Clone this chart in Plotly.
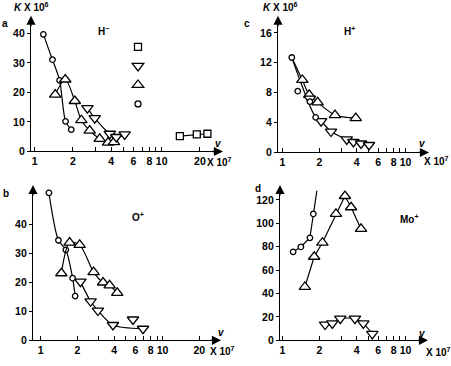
import plotly.graph_objects as go

W, H = 451, 366

# ---------------- data (x in units of 10^7, y = K x 10^6) ----------------
# Panel a : H-
a_circ_x = [1.17, 1.38, 1.57, 1.75, 1.94]
a_circ_y = [39.7, 31.1, 24.1, 10.2, 7.4]
a_up_x = [1.45, 1.74, 2.07, 2.33, 2.71, 3.25, 3.78, 4.21]
a_up_y = [19.3, 24.4, 17.1, 10.6, 7.1, 4.3, 3.0, 3.2]
a_dn_x = [2.60, 2.97, 3.90, 4.39, 5.11]
a_dn_y = [14.7, 11.3, 6.0, 4.9, 5.8]
a_sq_x = [13.9, 18.9, 22.9]
a_sq_y = [5.2, 5.8, 6.0]

# Panel b : O+
b_circ_x = [1.17, 1.40, 1.61, 1.83, 1.92]
b_circ_y = [51.0, 34.6, 31.3, 21.5, 15.3]
b_up_x = [1.48, 1.73, 2.09, 2.72, 3.25, 3.68, 4.25]
b_up_y = [23.2, 33.8, 33.0, 23.6, 20.0, 19.0, 16.4]
b_dn_x = [2.12, 2.57, 2.95, 3.92, 5.72, 6.91]
b_dn_y = [20.3, 13.5, 10.3, 5.3, 7.2, 4.0]

# Panel c : H+
c_circ_x = [1.19, 1.33, 1.67, 1.86]
c_circ_y = [12.7, 8.2, 6.8, 4.7]
c_up_x = [1.45, 1.65, 1.93, 2.67, 3.94]
c_up_y = [9.7, 7.7, 6.7, 5.0, 4.6]
c_dn_x = [1.67, 2.06, 2.48, 3.33, 3.77, 4.35, 5.05]
c_dn_y = [7.2, 4.2, 2.8, 1.75, 1.4, 1.2, 1.0]

# Panel d : Mo+
d_circ_x = [1.22, 1.41, 1.67, 1.78, 1.93]
d_circ_y = [75.6, 79.8, 87.6, 108.0, 132.0]
d_up_x = [1.52, 1.81, 2.11, 2.72, 3.22, 3.61, 4.35]
d_up_y = [45.6, 71.4, 83.4, 108.0, 123.3, 113.7, 95.2]
d_dn_x = [2.22, 2.54, 2.95, 3.88, 4.54, 5.37]
d_dn_y = [13.5, 14.5, 18.5, 18.5, 14.5, 5.5]

x_labels_ab = [1, 2, 4, 6, 8, 10, 20]
x_minor_ab = [3, 5, 7, 9]
x_labels_cd = [1, 2, 4, 6, 8, 10]
x_minor_cd = [3, 5, 7, 9]
y_ticks_a = [0, 10, 20, 30, 40]
y_ticks_b = [0, 10, 20, 30, 40]
y_ticks_c = [0, 4, 8, 12, 16]
y_ticks_d = [0, 20, 40, 60, 80, 100, 120]

# ---------------- styling helpers ----------------
FONT = "Liberation Sans"
def fx(px): return px / W
def fy(py): return 1 - py / H

SYM = {
    "circ": dict(symbol="circle", size=5.5),
    "up": dict(symbol="triangle-up", size=10),
    "dn": dict(symbol="triangle-down", size=10),
    "sq": dict(symbol="square", size=7),
}

fig = go.Figure()

def add(xs, ys, kind, ax, mode="lines+markers", shape="spline"):
    m = dict(color="white", line=dict(color="black", width=1.3), **SYM[kind])
    fig.add_trace(go.Scatter(
        x=xs, y=ys, mode=mode, marker=m,
        line=dict(color="black", width=1.2, shape=shape, smoothing=0.8),
        xaxis="x" + ax, yaxis="y" + ax, showlegend=False, cliponaxis=False))

def add_line(xs, ys, ax, shape="spline"):
    fig.add_trace(go.Scatter(
        x=xs, y=ys, mode="lines",
        line=dict(color="black", width=1.2, shape=shape, smoothing=0.8),
        xaxis="x" + ax, yaxis="y" + ax, showlegend=False, cliponaxis=False,
        hoverinfo="skip"))

def add_markers(xs, ys, kind, ax):
    add(xs, ys, kind, ax, mode="markers")

# panel a
add(a_circ_x, a_circ_y, "circ", "")
add(a_up_x, a_up_y, "up", "")
add(a_dn_x, a_dn_y, "dn", "")
add(a_sq_x, a_sq_y, "sq", "", shape="linear")

# panel b
add(b_circ_x, b_circ_y, "circ", "2")
add(b_up_x, b_up_y, "up", "2")
b_curve_x = [x for i, x in enumerate(b_dn_x) if i != 4]
b_curve_y = [y for i, y in enumerate(b_dn_y) if i != 4]
add_line(b_curve_x, b_curve_y, "2")
add_markers(b_dn_x, b_dn_y, "dn", "2")

# panel c
add_line([c_circ_x[0]] + c_up_x, [c_circ_y[0]] + c_up_y, "3")
add_line([c_circ_x[0]] + c_circ_x[3:] + c_dn_x[1:],
         [c_circ_y[0]] + c_circ_y[3:] + c_dn_y[1:], "3")
add_markers(c_up_x, c_up_y, "up", "3")
add_markers(c_dn_x, c_dn_y, "dn", "3")
add_markers(c_circ_x, c_circ_y, "circ", "3")

# panel d
add(d_circ_x, d_circ_y, "circ", "4", shape="linear")
add(d_up_x, d_up_y, "up", "4", shape="linear")
add(d_dn_x, d_dn_y, "dn", "4", shape="spline")

# legend keys (panel a)
for kind in ["sq", "dn", "up", "circ"]:
    m = dict(color="white", line=dict(color="black", width=1.3), **SYM[kind])
    if kind == "circ":
        m["size"] = 6
    fig.add_trace(go.Scatter(x=[None], y=[None], mode="markers", marker=m,
                             name="", showlegend=True))

tickfont = dict(family=FONT, size=10.5, color="black", weight="bold")

def xaxis(dom, rng, vals, minor):
    return dict(type="log", domain=dom, range=rng, tickvals=vals,
                ticktext=[str(v) for v in vals],
                minor=dict(tickvals=minor, ticks="inside", ticklen=4,
                           tickwidth=1.1, tickcolor="black", showgrid=False),
                showline=True, linecolor="black", linewidth=1.3, ticks="inside",
                ticklen=4, tickwidth=1.1, tickcolor="black", showgrid=False,
                zeroline=False, tickfont=tickfont, fixedrange=True)

def yaxis(dom, rng, vals, anchor):
    return dict(domain=dom, range=rng, tickvals=vals, showline=True,
                linecolor="black", linewidth=1.3, ticks="outside", ticklen=3,
                tickwidth=1.1, tickcolor="black", showgrid=False, zeroline=False,
                tickfont=tickfont, anchor=anchor, fixedrange=True)

fig.update_layout(
    xaxis=xaxis([fx(31), fx(216)], [(31 - 34.7) / 127, (216 - 34.7) / 127], x_labels_ab, x_minor_ab),
    yaxis=yaxis([fy(154), fy(22)], [0, (154 - 22) / 3.0], y_ticks_a, "x"),
    xaxis2=xaxis([fx(33), fx(214)], [(33 - 40.6) / 122, (214 - 40.6) / 122], x_labels_ab, x_minor_ab),
    yaxis2=yaxis([fy(346), fy(194)], [0, (346 - 194) / 2.94], y_ticks_b, "x2"),
    xaxis3=xaxis([fx(278), fx(422)], [(278 - 282.5) / 123, (422 - 282.5) / 123], x_labels_cd, x_minor_cd),
    yaxis3=yaxis([fy(155), fy(22)], [0, (155 - 22) / 7.6], y_ticks_c, "x3"),
    xaxis4=xaxis([fx(280), fx(421)], [(280 - 282.5) / 123, (421 - 282.5) / 123], x_labels_cd, x_minor_cd),
    yaxis4=yaxis([fy(346), fy(194)], [0, (346 - 194) / 1.19], y_ticks_d, "x4"),
)
fig.layout.xaxis.anchor = "y"
fig.layout.xaxis2.anchor = "y2"
fig.layout.xaxis3.anchor = "y3"
fig.layout.xaxis4.anchor = "y4"

ann = []
def arrow(px, py, axp, ayp):
    ann.append(dict(x=fx(px), y=fy(py), xref="paper", yref="paper", text="",
                    showarrow=True, ax=axp, ay=ayp, arrowhead=2, arrowsize=1.4,
                    arrowwidth=1.3, arrowcolor="black", standoff=0))

arrow(31, 16, 0, 12); arrow(223, 154, -12, 0)
arrow(33, 188, 0, 12); arrow(221, 346, -12, 0)
arrow(278, 16, 0, 12); arrow(429, 155, -12, 0)
arrow(280, 188, 0, 12); arrow(428, 346, -12, 0)

def txt(px, py, s, size=10):
    ann.append(dict(x=fx(px), y=fy(py), xref="paper", yref="paper", text=s,
                    showarrow=False, xanchor="center", yanchor="middle",
                    font=dict(family=FONT, size=size, color="black", weight="bold")))

K = "<i>K</i> X 10<sup>6</sup>"
txt(31, 7, K); txt(280, 7, K)
txt(5, 24, "a"); txt(247, 24, "c"); txt(6, 197, "b"); txt(258, 192, "d")
txt(103, 32, "H<sup>−</sup>"); txt(349, 32, "H<sup>+</sup>")
txt(138, 221, "O<sup>+</sup>"); txt(409, 223, "Mo<sup>+</sup>")
txt(218, 146, "<i>v</i>"); txt(422, 146, "<i>v</i>")
txt(221, 338, "<i>v</i>"); txt(422, 339, "<i>v</i>")
X7 = "X 10<sup>7</sup>"
txt(219, 165, X7); txt(222, 357, X7); txt(436, 164, X7); txt(438, 358, X7)

fig.update_layout(
    width=W, height=H, margin=dict(l=0, r=0, t=0, b=0),
    paper_bgcolor="white", plot_bgcolor="rgba(0,0,0,0)",
    font=dict(family=FONT, size=10, color="black"),
    annotations=ann,
    showlegend=True,
    legend=dict(x=fx(118), y=fy(33), xanchor="left", yanchor="top",
                bgcolor="rgba(0,0,0,0)", borderwidth=0, font=dict(size=12),
                itemclick=False, itemdoubleclick=False, tracegroupgap=0),
)

fig.write_html("out.html", config={"displayModeBar": False},
               post_script="document.body.style.margin='0';document.body.style.overflow='hidden';")
